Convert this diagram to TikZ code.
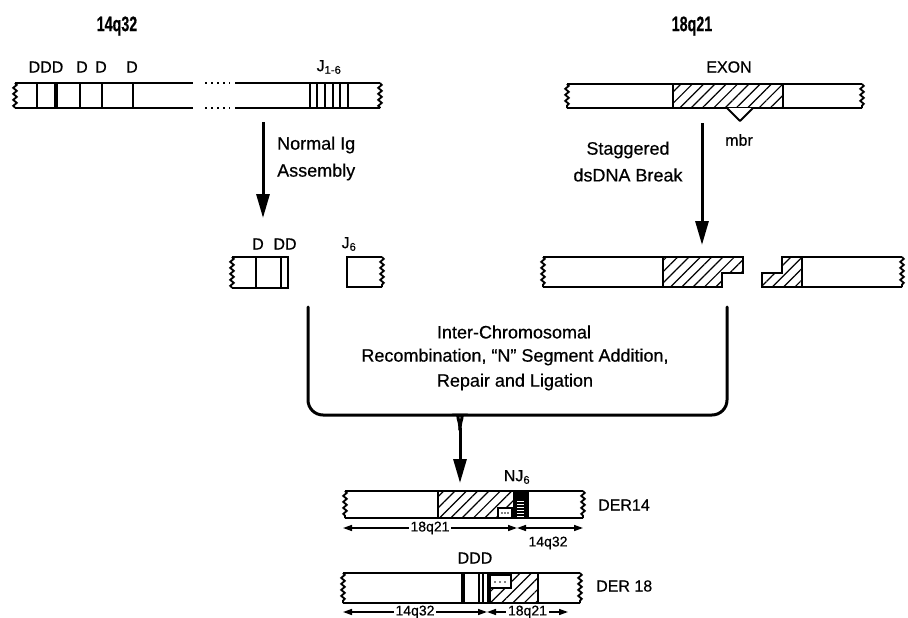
\documentclass[tikz,border=0pt]{standalone}
\usepackage{fontspec}
\setmainfont{Liberation Sans}[FakeBold=0.5]
\usetikzlibrary{arrows.meta,patterns.meta,decorations.pathmorphing}
\begin{document}
\begin{tikzpicture}[x=1pt,y=-1pt,
  chr/.style={line width=2.5pt},
  band/.style={line width=2.2pt},
  thickband/.style={line width=4.5pt},
  hatch/.style={pattern={Lines[angle=45,distance=8pt,line width=1.2pt]}},
  wavy/.style={line width=1.8pt, decorate, decoration={snake,amplitude=1.8pt,segment length=6pt}},
  bigarrow/.style={line width=3pt, -{Triangle[length=24pt,width=13pt]}},
  bracket/.style={line width=3pt, line cap=round, rounded corners=15pt},
  lenarrow/.style={line width=1.5pt, {Triangle[length=9pt,width=6pt]}-{Triangle[length=9pt,width=6pt]}},
  lbl/.style={font=\fontsize{16}{18}\selectfont, inner sep=0pt},
  lenlbl/.style={font=\fontsize{14}{16}\selectfont, inner sep=2pt, fill=white},
  txt/.style={font=\fontsize{18}{25}\selectfont, inner sep=0pt, align=center},
  titlelbl/.style={font=\fontsize{21}{23}\selectfont\bfseries, inner sep=0pt, xscale=0.68}
]
\useasboundingbox (0,0) rectangle (908,618);

% titles
\node[titlelbl] (t14) at (117,26) {14q32};
\node[titlelbl] (t18) at (692,26) {18q21};

% ---------------- top left chromosome 14q32
\draw[chr] (15,83) -- (193,83) (235,83) -- (380,83);
\draw[chr] (15,108) -- (193,108) (235,108) -- (380,108);
\draw[line width=2pt, dash pattern=on 2pt off 4pt] (205,83) -- (230,83) (205,108) -- (230,108);
\draw[wavy] (15,83) -- (15,108);
\draw[wavy] (380,83) -- (380,108);
\foreach \x in {37,80,102,133} \draw[band] (\x,83) -- (\x,108);
\draw[thickband] (56,83) -- (56,108);
\foreach \x in {310,317,325,333,340,348} \draw[line width=1.8pt] (\x,83) -- (\x,108);
\node[lbl] (dddA) at (46,67) {DDD};
\node[lbl] (dA) at (82,67) {D};
\node[lbl] (dB) at (101,67) {D};
\node[lbl] (dC) at (132,67) {D};
\node[lbl] (j16) at (329,67) {J\textsubscript{1-6}};

% ---------------- top right chromosome 18q21
\fill[hatch] (673,84) rectangle (783,108);
\draw[chr] (567,84) -- (862,84) (567,108) -- (862,108);
\draw[chr] (673,84) -- (673,108) (783,84) -- (783,108);
\draw[wavy] (567,84) -- (567,108);
\draw[wavy] (862,84) -- (862,108);
\filldraw[fill=white, line width=1.8pt, line join=round] (727,108) -- (740,121) -- (753,108);
\node[lbl] (exon) at (729,67) {EXON};
\node[lbl] (mbr) at (739,140) {mbr};

% ---------------- arrows
\coordinate (a1s) at (263,122); \coordinate (a1e) at (263,218);
\draw[bigarrow] (a1s) -- (a1e);
\node[txt, anchor=west] (nia1) at (277,145) {Normal Ig};
\node[txt, anchor=west] (nia2) at (277,172) {Assembly};
\coordinate (a2s) at (702,123); \coordinate (a2e) at (702,245);
\draw[bigarrow] (a2s) -- (a2e);
\node[txt] (sdb1) at (628,150) {Staggered};
\node[txt] (sdb2) at (628,175) {dsDNA Break};

% ---------------- middle left pieces
\draw[chr] (232,257) -- (288,257) -- (288,288) -- (232,288);
\draw[wavy] (232,257) -- (232,288);
\draw[band] (256,257) -- (256,288);
\draw[band] (281,257) -- (281,288);
\node[lbl] (dM) at (258,244) {D};
\node[lbl] (ddM) at (285,244) {DD};
\draw[chr] (382,257) -- (347,257) -- (347,287) -- (382,287);
\draw[wavy] (382,257) -- (382,287);
\node[lbl] (j6) at (349,244) {J\textsubscript{6}};

% ---------------- middle right pieces
\fill[hatch] (663,257) -- (743,257) -- (743,273) -- (722,273) -- (722,287) -- (663,287) -- cycle;
\draw[chr] (543,257) -- (743,257) -- (743,273) -- (722,273) -- (722,287) -- (543,287);
\draw[chr] (663,257) -- (663,287);
\draw[wavy] (543,257) -- (543,287);
\fill[hatch] (782,257) -- (802,257) -- (802,287) -- (762,287) -- (762,273) -- (782,273) -- cycle;
\draw[chr] (902,257) -- (782,257) -- (782,273) -- (762,273) -- (762,287) -- (902,287);
\draw[chr] (802,257) -- (802,287);
\draw[wavy] (902,257) -- (902,287);

% ---------------- bracket
\coordinate (bl) at (308,307);
\coordinate (br) at (727,307);
\coordinate (bj) at (460,430);
\coordinate (btip) at (460,483);
\draw[bracket] (bl) -- (308,415) -- (445,415) .. controls (455,415) and (460,419) .. (bj);
\draw[bracket] (br) -- (727,415) -- (475,415) .. controls (465,415) and (460,419) .. (bj);
\draw[bigarrow] (460,428) -- (btip);
\node[txt] (ic1) at (514,332) {Inter-Chromosomal};
\node[txt] (ic2) at (515,357) {Recombination, “N” Segment Addition,};
\node[txt] (ic3) at (515,382) {Repair and Ligation};

% ---------------- DER14
\fill[hatch] (438,491) rectangle (513,518);
\fill (513,491) rectangle (528,518);
\foreach \y in {501,504,507,510,513,516} \draw[white, line width=1pt] (517,\y) -- (524,\y);
\filldraw[fill=white, line width=1.2pt] (498,508) rectangle (512,518);
\foreach \x in {502,505,508} \fill (\x,513) circle (0.9pt);
\draw[chr] (345,491) -- (583,491) (345,518) -- (583,518);
\draw[chr] (438,491) -- (438,518) (528,491) -- (528,518);
\draw[wavy] (345,491) -- (345,518);
\draw[wavy] (583,491) -- (583,518);
\node[lbl] (nj6) at (517,477) {NJ\textsubscript{6}};
\node[lbl, anchor=west] (der14) at (598,505) {DER14};
\coordinate (l14a) at (343,528); \coordinate (l14b) at (517,528); \coordinate (l14c) at (583,528);
\draw[lenarrow] (l14a) -- (l14b) node[midway, lenlbl] {18q21};
\draw[lenarrow] (l14b) -- (l14c);
\node[lenlbl, fill=none] (l14lbl) at (548,543) {14q32};

% ---------------- DER 18
\fill[hatch] (489,573) rectangle (538,603);
\filldraw[fill=white, line width=1.2pt] (490,575) rectangle (511,588);
\foreach \x in {495,500,505} \fill (\x,582) circle (0.9pt);
\draw[chr] (343,573) -- (580,573) (343,603) -- (580,603);
\draw[line width=3.2pt] (463,573) -- (463,603);
\draw[line width=1.8pt] (479,573) -- (479,603) (483,573) -- (483,603);
\draw[line width=3.2pt] (489,573) -- (489,603);
\draw[chr] (538,573) -- (538,603);
\draw[wavy] (343,573) -- (343,603);
\draw[wavy] (580,573) -- (580,603);
\node[lbl] (ddd18) at (475,558) {DDD};
\node[lbl, anchor=west] (der18) at (596,586) {DER 18};
\coordinate (l18a) at (343,612); \coordinate (l18b) at (487,612); \coordinate (l18c) at (568,612);
\draw[lenarrow] (l18a) -- (l18b) node[midway, lenlbl] {14q32};
\draw[lenarrow] (l18b) -- (l18c) node[midway, lenlbl] {18q21};
\end{tikzpicture}
\end{document}
